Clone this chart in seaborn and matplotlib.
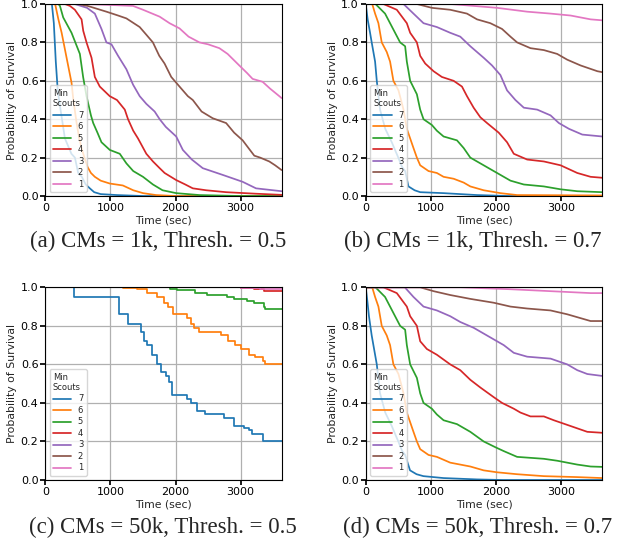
"""Survival curves of scout counts for four CM / threshold settings."""
import matplotlib
matplotlib.use("Agg")
import matplotlib.pyplot as plt
import pandas as pd
import seaborn as sns

# --- data: {min scouts: (time in sec, survival)} ---
PANEL_A = {
    7: ([0, 100, 130, 160, 190, 224, 300, 400, 454, 504, 560, 620, 683, 750, 850, 1100, 1500, 3630],
        [1.0, 1.0, 0.9, 0.7, 0.55, 0.47, 0.3, 0.22, 0.2, 0.12, 0.1, 0.06, 0.04, 0.02, 0.01, 0.005, 0.0, 0.0]),
    6: ([0, 150, 200, 250, 326, 402, 430, 480, 520, 556, 600, 650, 700, 760, 850, 990, 1190, 1350, 1500, 1700, 2000, 3630],
        [1.0, 1.0, 0.92, 0.85, 0.72, 0.59, 0.5, 0.38, 0.3, 0.25, 0.2, 0.15, 0.12, 0.1, 0.08, 0.065, 0.055, 0.03, 0.015, 0.005, 0.0, 0.0]),
    5: ([0, 200, 224, 274, 402, 530, 580, 632, 700, 735, 800, 862, 990, 1143, 1245, 1350, 1500, 1653, 1800, 2010, 2367, 3000, 3630],
        [1.0, 1.0, 0.99, 0.93, 0.85, 0.74, 0.62, 0.52, 0.42, 0.38, 0.33, 0.28, 0.24, 0.22, 0.17, 0.13, 0.1, 0.06, 0.03, 0.015, 0.005, 0.0, 0.0]),
    4: ([0, 300, 377, 453, 556, 582, 632, 709, 760, 836, 989, 1100, 1220, 1270, 1350, 1423, 1551, 1653, 1756, 1832, 2010, 2150, 2265, 2470, 2777, 3235, 3630],
        [1.0, 1.0, 0.99, 0.97, 0.92, 0.86, 0.8, 0.72, 0.62, 0.57, 0.52, 0.5, 0.45, 0.4, 0.34, 0.3, 0.22, 0.18, 0.145, 0.12, 0.083, 0.06, 0.04, 0.03, 0.02, 0.012, 0.006]),
    3: ([0, 450, 640, 760, 862, 938, 1015, 1117, 1245, 1347, 1449, 1551, 1679, 1756, 1850, 2010, 2112, 2250, 2418, 2724, 3031, 3236, 3630],
        [1.0, 1.0, 0.98, 0.95, 0.87, 0.8, 0.79, 0.73, 0.66, 0.58, 0.52, 0.48, 0.44, 0.4, 0.36, 0.31, 0.24, 0.19, 0.145, 0.11, 0.074, 0.04, 0.025]),
    2: ([0, 500, 650, 938, 1117, 1245, 1449, 1551, 1652, 1750, 1831, 1934, 2061, 2189, 2265, 2400, 2571, 2777, 2900, 3031, 3120, 3210, 3300, 3440, 3530, 3630],
        [1.0, 1.0, 0.99, 0.96, 0.94, 0.925, 0.88, 0.84, 0.8, 0.73, 0.69, 0.62, 0.57, 0.52, 0.5, 0.44, 0.405, 0.38, 0.33, 0.29, 0.25, 0.21, 0.2, 0.18, 0.16, 0.135]),
    1: ([0, 600, 1000, 1347, 1500, 1756, 1908, 2061, 2200, 2367, 2500, 2673, 2800, 2979, 3100, 3184, 3337, 3450, 3630],
        [1.0, 1.0, 0.995, 0.99, 0.97, 0.934, 0.9, 0.873, 0.83, 0.8, 0.79, 0.77, 0.74, 0.68, 0.64, 0.61, 0.595, 0.56, 0.51]),
}

PANEL_B = {
    7: ([0, 30, 67, 92, 144, 170, 220, 300, 400, 500, 560, 605, 656, 750, 836, 1195, 1708, 2200, 3630],
        [1.0, 0.92, 0.85, 0.8, 0.7, 0.6, 0.45, 0.35, 0.28, 0.2, 0.15, 0.13, 0.05, 0.03, 0.02, 0.015, 0.005, 0.0, 0.0]),
    6: ([0, 100, 144, 195, 246, 323, 374, 425, 503, 580, 631, 733, 785, 836, 964, 1092, 1195, 1349, 1503, 1605, 1810, 2067, 2323, 3630],
        [1.0, 1.0, 0.95, 0.9, 0.8, 0.75, 0.7, 0.6, 0.55, 0.45, 0.35, 0.25, 0.2, 0.16, 0.13, 0.12, 0.1, 0.09, 0.07, 0.05, 0.03, 0.015, 0.005, 0.003]),
    5: ([0, 150, 297, 374, 451, 528, 605, 631, 682, 785, 836, 887, 1015, 1092, 1195, 1400, 1503, 1605, 1759, 1913, 2067, 2221, 2426, 2733, 2990, 3246, 3630],
        [1.0, 1.0, 0.95, 0.9, 0.85, 0.8, 0.78, 0.7, 0.6, 0.53, 0.45, 0.4, 0.37, 0.34, 0.31, 0.29, 0.25, 0.2, 0.17, 0.14, 0.11, 0.08, 0.06, 0.05, 0.035, 0.025, 0.02]),
    4: ([0, 272, 477, 631, 682, 785, 836, 913, 1041, 1169, 1349, 1477, 1554, 1656, 1759, 1862, 2041, 2169, 2272, 2477, 2733, 2990, 3118, 3246, 3451, 3630],
        [1.0, 1.0, 0.97, 0.9, 0.85, 0.8, 0.73, 0.69, 0.65, 0.62, 0.6, 0.57, 0.52, 0.46, 0.41, 0.38, 0.33, 0.28, 0.22, 0.19, 0.18, 0.16, 0.14, 0.12, 0.1, 0.095]),
    3: ([0, 580, 733, 887, 1092, 1297, 1451, 1605, 1810, 1938, 2067, 2169, 2297, 2426, 2631, 2836, 2964, 3118, 3323, 3630],
        [1.0, 1.0, 0.95, 0.9, 0.88, 0.85, 0.83, 0.78, 0.72, 0.68, 0.63, 0.55, 0.5, 0.46, 0.45, 0.42, 0.38, 0.35, 0.32, 0.31]),
    2: ([0, 785, 1015, 1297, 1554, 1708, 1913, 2092, 2221, 2323, 2528, 2733, 2938, 3092, 3297, 3554, 3630],
        [1.0, 1.0, 0.98, 0.97, 0.95, 0.92, 0.9, 0.87, 0.83, 0.8, 0.77, 0.76, 0.74, 0.71, 0.68, 0.65, 0.645]),
    1: ([0, 1297, 2015, 2477, 2836, 3144, 3451, 3630],
        [1.0, 1.0, 0.98, 0.96, 0.95, 0.94, 0.92, 0.915]),
}

# panel (c) has few events, drawn as real steps
PANEL_C = {
    7: ([0, 440, 1130, 1275, 1465, 1515, 1565, 1640, 1715, 1770, 1850, 1900, 1940, 2175, 2230, 2330, 2450, 2740, 2895, 3050, 3125, 3180, 3350, 3630],
        [1.0, 0.95, 0.86, 0.81, 0.77, 0.72, 0.7, 0.65, 0.6, 0.56, 0.54, 0.51, 0.44, 0.42, 0.4, 0.36, 0.34, 0.32, 0.28, 0.27, 0.26, 0.24, 0.2, 0.2]),
    6: ([0, 1200, 1405, 1560, 1715, 1815, 1880, 1960, 2175, 2230, 2280, 2355, 2700, 2800, 2920, 3000, 3125, 3225, 3340, 3380, 3630],
        [1.0, 0.995, 0.99, 0.97, 0.95, 0.92, 0.9, 0.86, 0.84, 0.81, 0.79, 0.77, 0.75, 0.72, 0.7, 0.68, 0.65, 0.64, 0.62, 0.6, 0.6]),
    5: ([0, 1920, 2020, 2300, 2485, 2790, 2895, 3100, 3200, 3355, 3380, 3630],
        [1.0, 0.99, 0.985, 0.97, 0.96, 0.95, 0.94, 0.93, 0.92, 0.9, 0.885, 0.885]),
    4: ([0, 3000, 3200, 3355, 3630], [1.0, 0.995, 0.99, 0.98, 0.98]),
    3: ([0, 3630], [1.0, 1.0]),
    2: ([0, 3630], [1.0, 1.0]),
    1: ([0, 3000, 3300, 3630], [1.0, 0.995, 0.99, 0.99]),
}

PANEL_D = {
    7: ([0, 25, 50, 92, 170, 220, 300, 400, 500, 560, 605, 680, 780, 885, 1195, 1708, 2100, 3630],
        [1.0, 0.93, 0.85, 0.75, 0.6, 0.45, 0.35, 0.28, 0.2, 0.15, 0.13, 0.05, 0.03, 0.02, 0.01, 0.003, 0.0, 0.0]),
    6: ([0, 100, 144, 195, 246, 323, 374, 425, 503, 580, 631, 733, 785, 836, 964, 1092, 1297, 1605, 1810, 2015, 2323, 2733, 3246, 3630],
        [1.0, 1.0, 0.95, 0.9, 0.8, 0.75, 0.7, 0.6, 0.55, 0.45, 0.35, 0.25, 0.2, 0.16, 0.13, 0.12, 0.09, 0.07, 0.05, 0.04, 0.03, 0.02, 0.015, 0.01]),
    5: ([0, 150, 297, 374, 451, 528, 605, 631, 682, 785, 836, 887, 1015, 1092, 1195, 1400, 1605, 1810, 1990, 2118, 2323, 2733, 2938, 3246, 3451, 3630],
        [1.0, 1.0, 0.95, 0.9, 0.85, 0.8, 0.78, 0.7, 0.6, 0.53, 0.45, 0.4, 0.37, 0.34, 0.31, 0.29, 0.25, 0.2, 0.17, 0.15, 0.12, 0.11, 0.1, 0.08, 0.07, 0.068]),
    4: ([0, 272, 477, 631, 682, 785, 836, 938, 1092, 1297, 1451, 1605, 1759, 1964, 2092, 2272, 2374, 2528, 2733, 2887, 3144, 3400, 3630],
        [1.0, 1.0, 0.97, 0.9, 0.85, 0.8, 0.72, 0.68, 0.65, 0.6, 0.57, 0.52, 0.48, 0.43, 0.4, 0.37, 0.35, 0.33, 0.33, 0.31, 0.28, 0.25, 0.245]),
    3: ([0, 600, 733, 887, 1092, 1297, 1451, 1656, 1810, 2015, 2118, 2272, 2477, 2836, 3092, 3246, 3400, 3630],
        [1.0, 1.0, 0.95, 0.9, 0.88, 0.85, 0.82, 0.79, 0.76, 0.72, 0.7, 0.66, 0.64, 0.63, 0.6, 0.57, 0.55, 0.54]),
    2: ([0, 836, 1041, 1297, 1605, 1964, 2221, 2477, 2836, 3092, 3297, 3450, 3630],
        [1.0, 1.0, 0.98, 0.96, 0.94, 0.92, 0.9, 0.89, 0.88, 0.86, 0.84, 0.825, 0.825]),
    1: ([0, 1451, 2221, 2836, 3451, 3630], [1.0, 1.0, 0.99, 0.98, 0.97, 0.97]),
}

SCOUT_ORDER = ["7", "6", "5", "4", "3", "2", "1"]
CAPTIONS = [
    "(a) CMs = 1k, Thresh. = 0.5",
    "(b) CMs = 1k, Thresh. = 0.7",
    "(c) CMs = 50k, Thresh. = 0.5",
    "(d) CMs = 50k, Thresh. = 0.7",
]


def to_frame(panel):
    rows = []
    for scouts, (times, surv) in panel.items():
        for t, s in zip(times, surv):
            rows.append({"time": t, "survival": s, "scouts": str(scouts)})
    return pd.DataFrame(rows)


def draw_panel(ax, panel, steps=False):
    df = to_frame(panel)
    sns.lineplot(data=df, x="time", y="survival", hue="scouts", hue_order=SCOUT_ORDER,
                 palette="tab10", linewidth=1.25, ax=ax,
                 drawstyle="steps-post" if steps else "default")
    ax.set_xlim(0, 3630)
    ax.set_ylim(0, 1.0)
    ax.set_xticks([0, 1000, 2000, 3000])
    ax.set_yticks([0.0, 0.2, 0.4, 0.6, 0.8, 1.0])
    ax.set_yticklabels([f"{v:.1f}" for v in [0.0, 0.2, 0.4, 0.6, 0.8, 1.0]])
    ax.set_xlabel("Time (sec)", labelpad=2)
    ax.set_ylabel("Probability of Survival", labelpad=2.5)
    handles, labels = ax.get_legend_handles_labels()
    ax.legend(handles, labels, title="Min\nScouts", loc="lower left",
              fontsize=6, title_fontsize=6, handlelength=2.2,
              labelspacing=0.3, alignment="left")


sns.set_theme(style="ticks", rc={
    "axes.grid": True,
    "grid.color": "#b0b0b0",
    "grid.linewidth": 0.9,
    "axes.edgecolor": "black",
    "axes.linewidth": 0.8,
    "xtick.color": "black",
    "ytick.color": "black",
    "xtick.labelsize": 8,
    "ytick.labelsize": 8,
    "axes.labelsize": 7.8,
    "xtick.major.size": 3.5,
    "ytick.major.size": 3.5,
    "xtick.major.pad": 1.5,
    "ytick.major.pad": 1.5,
})
plt.rcParams["font.family"] = ["DejaVu Sans"]

fig = plt.figure(figsize=(6.19, 5.48), dpi=100)
positions = [
    [0.0733, 0.6423, 0.3817, 0.3504],
    [0.5908, 0.6423, 0.3822, 0.3504],
    [0.0733, 0.1241, 0.3817, 0.3516],
    [0.5908, 0.1241, 0.3822, 0.3516],
]
panels = [PANEL_A, PANEL_B, PANEL_C, PANEL_D]
for i, (pos, panel) in enumerate(zip(positions, panels)):
    ax = fig.add_axes(pos)
    draw_panel(ax, panel, steps=(i == 2))

# captions under each panel, in a Times-like serif
caption_xy = [(0.256, 0.559), (0.764, 0.559), (0.263, 0.038), (0.772, 0.038)]
for (x, y), text in zip(caption_xy, CAPTIONS):
    fig.text(x, y, text, ha="center", va="center", fontsize=16.5,
             family=["Liberation Serif", "DejaVu Serif"])

fig.savefig("out.png", dpi=100)
